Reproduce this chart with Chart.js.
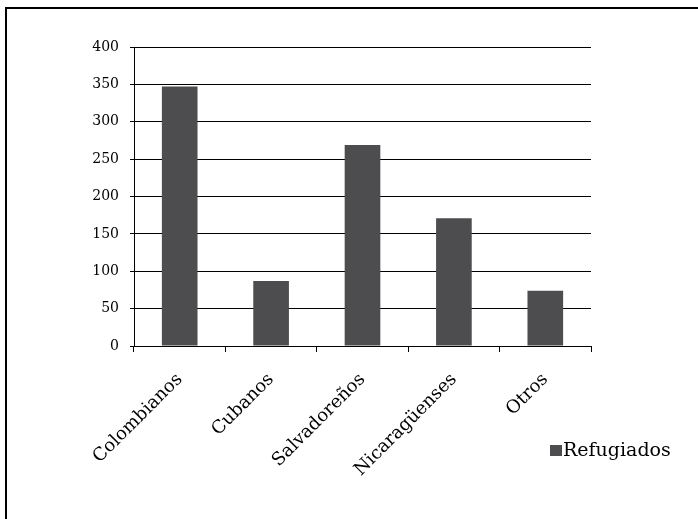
<!DOCTYPE html>
<html>
<head>
<meta charset="utf-8">
<script src="https://cdn.jsdelivr.net/npm/chart.js@4"></script>
<style>
  html, body { margin: 0; padding: 0; background: #fff; }
  #wrap { position: relative; width: 698px; height: 519px; }
</style>
</head>
<body>
<div id="wrap"><canvas id="grafico"></canvas></div>
<script>
const categorias = ["Colombianos", "Cubanos", "Salvadoreños", "Nicaragüenses", "Otros"];
const refugiados = [347, 87, 269, 171, 74];
const serieNome = "Refugiados";
const yTicks = [0, 50, 100, 150, 200, 250, 300, 350, 400];

const corBarra = "#4d4d4f";
const fonte = "'DejaVu Serif', serif";

// moldura (so aparece em cima e a esquerda) + legenda desenhada a mao
const extras = {
    id: "extras",
    afterDraw(chart) {
        const ctx = chart.ctx;
        ctx.save();
        ctx.strokeStyle = "#000";
        ctx.lineWidth = 2;
        ctx.beginPath();
        ctx.moveTo(6, 519);
        ctx.lineTo(6, 8);
        ctx.lineTo(698, 8);
        ctx.stroke();

        const ds = chart.data.datasets[0];
        ctx.fillStyle = ds.backgroundColor;
        ctx.fillRect(550, 445, 12, 11);
        ctx.fillStyle = "#000";
        ctx.font = "19px " + fonte;
        ctx.textBaseline = "alphabetic";
        ctx.textAlign = "left";
        ctx.fillText(ds.label, 563, 456);
        ctx.restore();
    }
};

let chartInstance = null;

function gerarGrafico() {
    const ctx = document.getElementById("grafico").getContext("2d");
    chartInstance = new Chart(ctx, {
        type: "bar",
        data: {
            labels: categorias,
            datasets: [{
                label: serieNome,
                data: refugiados,
                backgroundColor: corBarra,
                barPercentage: 0.39,
                categoryPercentage: 1,
            }],
        },
        options: {
            responsive: true,
            maintainAspectRatio: false,
            animation: false,
            layout: { padding: { top: 47, right: 107, left: 0, bottom: 0 } },
            plugins: {
                legend: { display: false },
                tooltip: { enabled: false },
            },
            scales: {
                x: {
                    grid: {
                        offset: true,
                        drawOnChartArea: false,
                        color: "#000",
                        tickLength: 6,
                    },
                    border: { color: "#000", width: 1 },
                    ticks: {
                        color: "#000",
                        font: { family: fonte, size: 18 },
                        maxRotation: 45,
                        minRotation: 45,
                        padding: 17,
                        autoSkip: false,
                    },
                    afterFit(scale) { scale.height = 173; },
                },
                y: {
                    min: 0,
                    max: 400,
                    afterBuildTicks(scale) { scale.ticks = yTicks.map(v => ({ value: v })); },
                    grid: { color: "#000", lineWidth: 1, tickLength: 4 },
                    border: { color: "#000", width: 1 },
                    ticks: {
                        color: "#000",
                        font: { family: fonte, size: 14 },
                        padding: 11,
                    },
                    afterFit(scale) { scale.width = 134; },
                },
            },
        },
        plugins: [extras],
    });
}

gerarGrafico();
</script>
</body>
</html>
